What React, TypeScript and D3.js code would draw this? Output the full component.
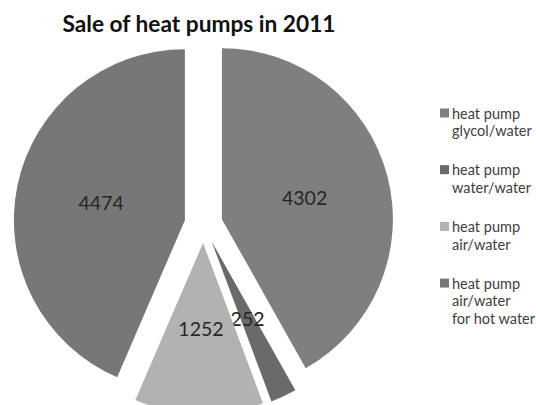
import React from "react";
import * as d3 from "d3";

const title = "Sale of heat pumps in 2011";
const categories = [
  "heat pump\nglycol/water",
  "heat pump\nwater/water",
  "heat pump\nair/water",
  "heat pump\nair/water\nfor hot water",
];
const values = [4302, 252, 1252, 4474];
const colors = ["#7f7f7f", "#6a6a6a", "#b2b2b2", "#777777"];

const W = 536;
const H = 405;
const cx = 203.5;
const cy = 224;
const R = 171;
const explode = 19;

export default function App() {
  const pie = d3
    .pie<number>()
    .sort(null)
    .value((d) => d)
    .startAngle(0)
    .endAngle(2 * Math.PI);
  const arcs = pie(values);
  const arc = d3.arc<d3.PieArcDatum<number>>().innerRadius(0).outerRadius(R);
  const labelArc = d3
    .arc<d3.PieArcDatum<number>>()
    .innerRadius(R * 0.5)
    .outerRadius(R * 0.5);

  const legendX = 440;
  const legendY0 = 113;
  const legendStep = 56.7;
  const lineH = 17.8;

  return (
    <svg
      width={W}
      height={H}
      style={{ position: "absolute", left: 0, top: 0, background: "#fff" }}
    >
      <rect width={W} height={H} fill="#fff" />
      <text
        x={199}
        y={32}
        textAnchor="middle"
        fontFamily="Lato, 'Open Sans', sans-serif"
        fontWeight="bold"
        fontSize={22.7}
        fill="#111"
      >
        {title}
      </text>
      <g>
        {arcs.map((a, i) => {
          const mid = (a.startAngle + a.endAngle) / 2;
          const dx = Math.sin(mid) * explode;
          const dy = -Math.cos(mid) * explode;
          const [lx, ly] = labelArc.centroid(a);
          return (
            <g key={i} transform={`translate(${cx + dx},${cy + dy})`}>
              <path d={arc(a) || ""} fill={colors[i]} />
              <text
                x={lx}
                y={ly}
                textAnchor="middle"
                dominantBaseline="central"
                fontFamily="Lato, 'Open Sans', sans-serif"
                fontSize={19.5}
                fill="#262626"
              >
                {values[i]}
              </text>
            </g>
          );
        })}
      </g>
      <g>
        {categories.map((c, i) => {
          const y = legendY0 + i * legendStep;
          const lines = c.split("\n");
          return (
            <g key={i}>
              <rect x={legendX} y={y - 4.5} width={9} height={9} fill={colors[i]} />
              <text
                fontFamily="Lato, 'Open Sans', sans-serif"
                fontSize={14.5}
                fill="#404040"
              >
                {lines.map((l, j) => (
                  <tspan
                    key={j}
                    x={legendX + 12}
                    y={y + j * lineH}
                    dominantBaseline="central"
                  >
                    {l}
                  </tspan>
                ))}
              </text>
            </g>
          );
        })}
      </g>
    </svg>
  );
}
